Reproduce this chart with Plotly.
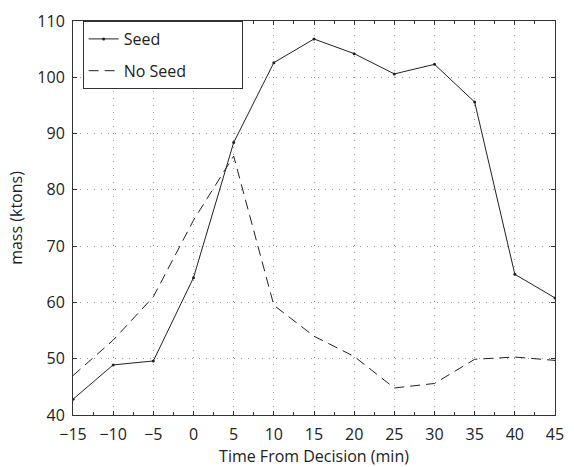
import plotly.graph_objects as go

time_min = [-15, -10, -5, 0, 5, 10, 15, 20, 25, 30, 35, 40, 45]
seed = [42.8, 48.9, 49.6, 64.4, 88.4, 102.6, 106.8, 104.2, 100.6, 102.3, 95.6, 65.0, 60.8]
no_seed = [47.0, 53.3, 61.0, 74.6, 86.0, 59.5, 54.0, 50.4, 44.8, 45.6, 49.9, 50.3, 49.7]

x_ticks = [-15, -10, -5, 0, 5, 10, 15, 20, 25, 30, 35, 40, 45]
x_labels = ["\u221215", "\u221210", "\u22125", "0", "5", "10", "15", "20", "25", "30", "35", "40", "45"]
y_ticks = [40, 50, 60, 70, 80, 90, 100, 110]

FONT = "Open Sans, Liberation Sans, sans-serif"
PAD = "\u00a0" * 12

fig = go.Figure()
fig.add_trace(go.Scatter(
    x=time_min, y=seed, mode="lines+markers", name="Seed" + PAD,
    legendgroup="a",
    line=dict(color="#222222", width=1),
    marker=dict(color="#222222", size=3),
))
fig.add_trace(go.Scatter(
    x=time_min, y=no_seed, mode="lines", name="No Seed" + PAD,
    legendgroup="b",
    line=dict(color="#222222", width=1, dash="10px,6px"),
))

fig.update_layout(
    width=574, height=467,
    margin=dict(l=73, r=10, t=15, b=50),
    paper_bgcolor="white", plot_bgcolor="white",
    font=dict(family=FONT, size=16, color="#222222"),
    showlegend=True,
    legend=dict(
        x=0.02, y=1.0, xanchor="left", yanchor="top",
        bgcolor="white", bordercolor="#333333", borderwidth=1,
        font=dict(size=16), tracegroupgap=8,
    ),
    xaxis=dict(
        range=[-15, 45], tickvals=x_ticks, ticktext=x_labels,
        ticks="inside", ticklen=4, tickcolor="#333333",
        showline=True, linecolor="#333333", linewidth=1, mirror="allticks",
        showgrid=True, gridcolor="#999999", griddash="1px,6px", gridwidth=1,
        zeroline=False,
        minor=dict(dtick=2.5, tick0=-15, ticks="inside", ticklen=3, tickcolor="#333333", showgrid=False),
        title=dict(text="Time From Decision (min)", font=dict(size=16), standoff=1),
        tickfont=dict(size=16),
        ticklabelstandoff=5,
    ),
    yaxis=dict(
        range=[40, 110], tickvals=y_ticks,
        ticks="inside", ticklen=4, tickcolor="#333333",
        showline=True, linecolor="#333333", linewidth=1, mirror="allticks",
        showgrid=True, gridcolor="#999999", griddash="1px,6px", gridwidth=1,
        zeroline=False,
        title=dict(text="mass (ktons)", font=dict(size=16), standoff=10),
        tickfont=dict(size=16),
        ticklabelstandoff=4,
    ),
)

fig.write_html("out.html")
